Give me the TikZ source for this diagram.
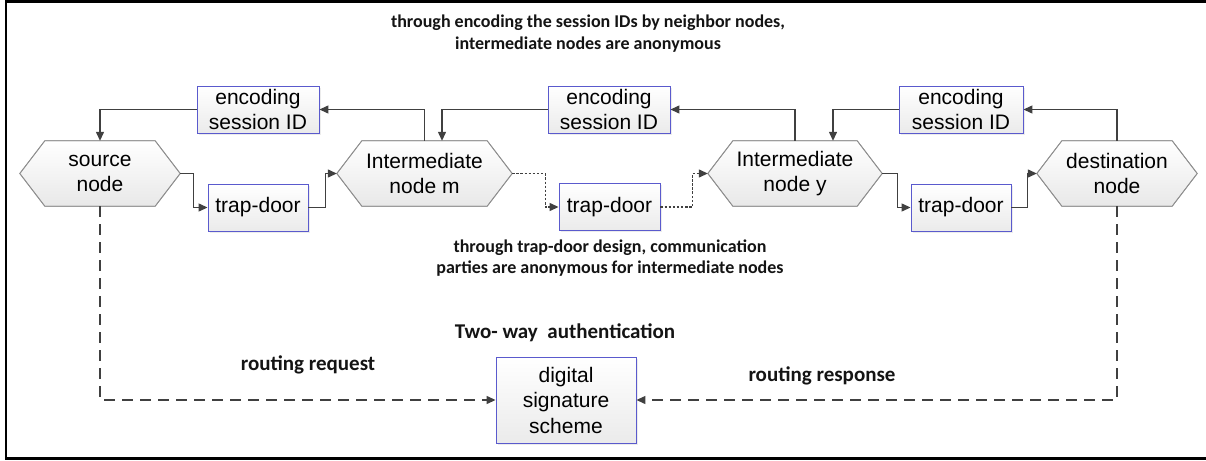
\documentclass[tikz,border=0pt]{standalone}
\usepackage{fontspec}
\setmainfont{Liberation Sans}
\newfontfamily\labfont{Carlito}
\usetikzlibrary{arrows.meta,backgrounds,shadows}
\definecolor{conncol}{HTML}{404040}
\definecolor{boxblue}{HTML}{5A5ACD}
\definecolor{hexgray}{HTML}{8F8F8F}
\begin{document}
\begin{tikzpicture}[x=1pt,y=-1pt,
  nodetext/.style={font=\fontsize{21}{25}\selectfont, align=center, text=black},
  box/.style={nodetext, rectangle, draw=boxblue, line width=0.9pt, top color=white, bottom color=black!8, inner sep=0pt,
    drop shadow={opacity=0.15,shadow xshift=1.5pt,shadow yshift=-1.5pt}},
  hex/.style={nodetext, rectangle, inner sep=0pt, minimum height=65pt},
  hexshape/.style={draw=hexgray, line width=0.8pt, top color=white, bottom color=black!9},
  conn/.style={draw=conncol, line width=1.3pt, -{Triangle[length=9pt,width=8pt]}},
  dots/.style={dash pattern=on 2.5pt off 1.6pt},
  dashpat/.style={dash pattern=on 11pt off 7pt},
  labsmall/.style={font=\labfont\bfseries\fontsize{18}{21.5}\selectfont, align=center, text=black!92},
  labbig/.style={font=\labfont\bfseries\fontsize{21}{25}\selectfont, align=center, text=black!92}
]
\useasboundingbox (0,0) rectangle (1206,460);

% encoding boxes
\node[box, minimum width=122pt, minimum height=47pt] (e1) at (258,109.5) {encoding\\session ID};
\node[box, minimum width=122pt, minimum height=47pt] (e2) at (609,109.5) {encoding\\session ID};
\node[box, minimum width=124pt, minimum height=47pt] (e3) at (961,109.5) {encoding\\session ID};
% trap-door boxes
\node[box, minimum width=100pt, minimum height=47pt] (t1) at (258,207.5) {trap-door};
\node[box, minimum width=101pt, minimum height=47pt] (t2) at (609.5,207) {trap-door};
\node[box, minimum width=100pt, minimum height=47pt] (t3) at (961,207.5) {trap-door};
% digital signature
\node[box, minimum width=140pt, minimum height=86pt, font=\fontsize{21}{25.5}\selectfont] (ds) at (566,400) {digital\\signature\\scheme};

% hexagon nodes
\node[hex, minimum width=160pt] (src) at (100,173.5) {source\\node};
\node[hex, minimum width=175pt] (im) at (424.5,173.5) {Intermediate\\node m};
\node[hex, minimum width=174pt] (iy) at (795,173.5) {Intermediate\\node y};
\node[hex, minimum width=160pt] (dst) at (1117,173.5) {destination\\node};

\begin{pgfonlayer}{background}
\fill[white] (0,0) rectangle (1206,460);
\foreach \n in {src,im,iy,dst}
  \shade[hexshape] (\n.west) -- ([xshift=25pt]\n.north west) -- ([xshift=-25pt]\n.north east)
     -- (\n.east) -- ([xshift=-25pt]\n.south east) -- ([xshift=25pt]\n.south west) -- cycle;
\end{pgfonlayer}
\foreach \n in {src,im,iy,dst}
  \draw[hexgray, line width=0.8pt] (\n.west) -- ([xshift=25pt]\n.north west) -- ([xshift=-25pt]\n.north east)
     -- (\n.east) -- ([xshift=-25pt]\n.south east) -- ([xshift=25pt]\n.south west) -- cycle;

% frame
\draw[line width=2.6pt] (1206,1.3) -- (6,1.3) -- (6,458.5) -- (1206,458.5);

% upper connectors (session IDs)
\draw[conn] (e1.west) -| (src.north);
\draw[conn] (im.north) |- (e1.east);
\draw[conn] (e2.west) -| ([xshift=17.5pt]im.north);
\draw[conn] (iy.north) |- (e2.east);
\draw[conn] (e3.west) -| ([xshift=38pt]iy.north);
\draw[conn] (dst.north) |- (e3.east);

% lower connectors (trap-door)
\draw[conn] (src.east) -- ++(13,0) |- (t1.west);
\draw[conn] (t1.east) -- ++(17,0) |- (im.west);
\draw[conn, dots] (im.east) -- ++(33,0) |- (t2.west);
\draw[conn, dots] (t2.east) -- ++(32,0) |- (iy.west);
\draw[conn] (iy.east) -- ++(15,0) |- (t3.west);
\draw[conn] (t3.east) -- ++(16,0) |- (dst.west);

% routing to digital signature
\draw[conn, dashpat] (src.south) |- (ds.west);
\draw[conn, dashpat] (dst.south) |- (ds.east);

% labels
\node[labsmall] (cap1) at (588,33.5) {through encoding the session IDs by neighbor nodes,\\intermediate nodes are anonymous};
\node[labsmall] (cap2) at (610,258) {through trap-door design, communication\\parties are anonymous for intermediate nodes};
\node[labbig] (cap3) at (565,333) {Two- way\ \ authentication};
\node[labbig] (rq) at (308,365) {routing request};
\node[labbig] (rs) at (822,376) {routing response};
\end{tikzpicture}
\end{document}
